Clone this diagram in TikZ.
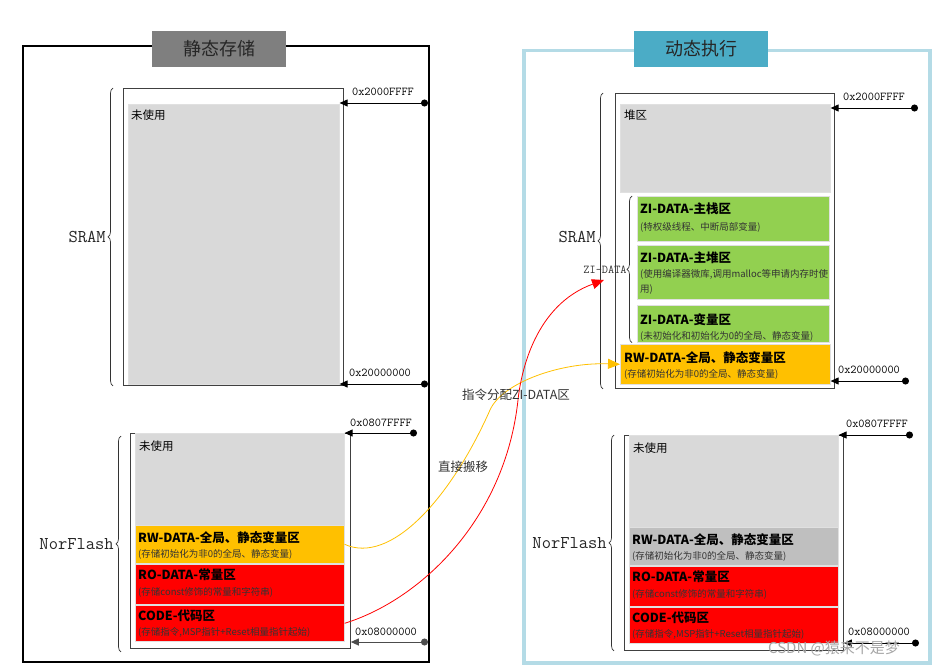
\documentclass[tikz,border=0pt]{standalone}
\usepackage{fontspec}
\newfontfamily\zhfont{Noto Sans CJK SC}
\usepackage{tikz}
\usetikzlibrary{positioning, arrows.meta, decorations.pathreplacing}

\definecolor{unusedgray}{HTML}{D9D9D9}
\definecolor{movedgray}{HTML}{BFBFBF}
\definecolor{rwyellow}{HTML}{FFC000}
\definecolor{rored}{HTML}{FF0000}
\definecolor{zigreen}{HTML}{92D050}
\definecolor{hdrgray}{HTML}{7F7F7F}
\definecolor{hdrblue}{HTML}{4BACC6}
\definecolor{frameblue}{HTML}{B4DBE6}
\definecolor{curveyellow}{HTML}{FFC000}

\begin{document}
\begin{tikzpicture}[x=1pt, y=-1pt,
    memrect/.style={draw=black!75, line width=0.8pt, fill=white, anchor=north west, inner sep=0pt},
    blk/.style={draw=black!12, line width=0.6pt, anchor=north west, inner sep=0pt},
    lbl/.style={anchor=north west, inner sep=0pt, font=\zhfont\fontsize{11.5}{13}\selectfont},
    ttl/.style={anchor=north west, inner sep=0pt, font=\zhfont\bfseries\fontsize{12.5}{14}\selectfont},
    sub/.style={anchor=north west, inner sep=0pt, align=left, text=black!80, font=\zhfont\fontsize{9.5}{15}\selectfont},
    hdr/.style={minimum width=134, minimum height=36, inner sep=0pt, text=black!85, font=\zhfont\fontsize{18}{20}\selectfont},
    addr/.style={{Circle[length=7pt]}-{Triangle[length=8pt,width=7pt]}, line width=1pt},
    addrlbl/.style={inner sep=0pt, font=\ttfamily\fontsize{12}{14}\selectfont},
    brc/.style={decorate, decoration={brace, amplitude=5pt}, line width=0.7pt, black!80},
    brclbl/.style={left=7pt, inner sep=0pt, text=black!85, font=\ttfamily\fontsize{18}{20}\selectfont},
    move/.style={line width=0.8pt, -{Triangle[length=12pt,width=10pt]}},
    note/.style={inner sep=0pt, text=black!80, font=\zhfont\fontsize{12.5}{14}\selectfont}
]
\useasboundingbox (0,0) rectangle (936,669);

% static storage (left)
\node[draw, line width=2pt, anchor=north west, minimum width=406, minimum height=616] (lframe) at (22,45) {};
\node[hdr, fill=hdrgray] (ltitle) at (219,49) {静态存储};

\node[memrect, minimum width=220, minimum height=297] (lsram) at (123,88) {};
\node[blk, fill=unusedgray, minimum width=211, minimum height=280] (lunused) at (128,104) {};
\node[lbl, below right=6pt and 3pt of lunused.north west] (lunusedt) {未使用};

\node[memrect, minimum width=220, minimum height=215] (lflash) at (130,433) {};
\node[blk, fill=unusedgray, minimum width=209, minimum height=92] (lfree) at (135,433) {};
\node[blk, fill=rwyellow, minimum width=209, minimum height=38] (lrw) at (135,525) {};
\node[blk, fill=rored, minimum width=209, minimum height=40] (lro) at (135,564) {};
\node[blk, fill=rored, minimum width=209, minimum height=36] (lcode) at (135,605) {};
\node[lbl, below right=8pt and 4pt of lfree.north west] (lfreet) {未使用};
\node[ttl, below right=6pt and 3pt of lrw.north west] (lrwt) {RW-DATA-全局、静态变量区};
\node[sub, below right=24pt and 3pt of lrw.north west] (lrws) {(存储初始化为非0的全局、静态变量)};
\node[ttl, below right=5pt and 3pt of lro.north west] (lrot) {RO-DATA-常量区};
\node[sub, below right=23pt and 3pt of lro.north west] (lros) {(存储const修饰的常量和字符串)};
\node[ttl, below right=5pt and 3pt of lcode.north west] (lcodet) {CODE-代码区};
\node[sub, below right=22pt and 3pt of lcode.north west] (lcodes) {(存储指令,MSP指针+Reset相量指针起始)};

\draw[brc] ([xshift=-10pt]lsram.south west) -- ([xshift=-10pt]lsram.north west)
    node[midway, brclbl] (lsraml) {SRAM};
\draw[brc] ([xshift=-9pt,yshift=-3pt]lflash.south west) -- ([xshift=-9pt,yshift=-3pt]lflash.north west)
    node[midway, brclbl] (lflashl) {NorFlash};

\coordinate (la1) at (428,103);
\coordinate (la2) at (428,384);
\coordinate (la3) at (417,433);
\coordinate (la4) at (428,642);
\draw[addr] (la1) -- (la1 -| lunused.east);
\draw[addr] (la2) -- (la2 -| lunused.east);
\draw[addr] (la3) -- (la3 -| lfree.east);
\draw[addr, black!70] (la4) -- (la4 -| lflash.east);
\node[addrlbl] (la1t) at (383,92) {0x2000FFFF};
\node[addrlbl] (la2t) at (380,373) {0x20000000};
\node[addrlbl] (la3t) at (381,423) {0x0807FFFF};
\node[addrlbl] (la4t) at (386,632) {0x08000000};

% dynamic execution (right)
\node[draw=frameblue, line width=3.5pt, anchor=north west, minimum width=406, minimum height=612] (rframe) at (522,49) {};
\node[hdr, fill=hdrblue] (rtitle) at (701,49) {动态执行};

\node[memrect, minimum width=219, minimum height=295] (rsram) at (615,93) {};
\node[blk, fill=unusedgray, minimum width=210, minimum height=88] (rheap) at (620,104) {};
\node[blk, fill=zigreen, minimum width=192, minimum height=45] (rstack) at (637,196) {};
\node[blk, fill=zigreen, minimum width=192, minimum height=54] (rmheap) at (637,245) {};
\node[blk, fill=zigreen, minimum width=192, minimum height=37] (rzivar) at (637,305) {};
\node[blk, fill=rwyellow, minimum width=210, minimum height=40] (rrw) at (620,344) {};
\node[lbl, below right=6pt and 4pt of rheap.north west] (rheapt) {堆区};
\node[ttl, below right=7pt and 3pt of rstack.north west] (rstackt) {ZI-DATA-主栈区};
\node[sub, below right=26pt and 3pt of rstack.north west] (rstacks) {(特权级线程、中断局部变量)};
\node[ttl, below right=7pt and 3pt of rmheap.north west] (rmheapt) {ZI-DATA-主堆区};
\node[sub, below right=24pt and 3pt of rmheap.north west] (rmheaps) {(使用编译器微库,调用malloc等申请内存时使\\用)};
\node[ttl, below right=8pt and 3pt of rzivar.north west] (rzivart) {ZI-DATA-变量区};
\node[sub, below right=26pt and 3pt of rzivar.north west] (rzivars) {(未初始化和初始化为0的全局、静态变量)};
\node[ttl, below right=7pt and 4pt of rrw.north west] (rrwt) {RW-DATA-全局、静态变量区};
\node[sub, below right=25pt and 4pt of rrw.north west] (rrws) {(存储初始化为非0的全局、静态变量)};

\node[memrect, minimum width=219, minimum height=215] (rflash) at (624,435) {};
\node[blk, fill=unusedgray, minimum width=209, minimum height=92] (rfree) at (629,435) {};
\node[blk, fill=movedgray, minimum width=209, minimum height=38] (rrwf) at (629,527) {};
\node[blk, fill=rored, minimum width=209, minimum height=40] (rro) at (629,566) {};
\node[blk, fill=rored, minimum width=209, minimum height=36] (rcode) at (629,607) {};
\node[lbl, below right=8pt and 4pt of rfree.north west] (rfreet) {未使用};
\node[ttl, below right=6pt and 3pt of rrwf.north west] (rrwft) {RW-DATA-全局、静态变量区};
\node[sub, below right=24pt and 3pt of rrwf.north west] (rrwfs) {(存储初始化为非0的全局、静态变量)};
\node[ttl, below right=5pt and 3pt of rro.north west] (rrot) {RO-DATA-常量区};
\node[sub, below right=23pt and 3pt of rro.north west] (rros) {(存储const修饰的常量和字符串)};
\node[ttl, below right=5pt and 3pt of rcode.north west] (rcodet) {CODE-代码区};
\node[sub, below right=22pt and 3pt of rcode.north west] (rcodes) {(存储指令,MSP指针+Reset相量指针起始)};

\draw[brc] ([xshift=-12pt]rsram.south west) -- ([xshift=-12pt]rsram.north west)
    node[midway, brclbl, yshift=4pt] (rsraml) {SRAM};
\draw[brc] ([xshift=-5pt]rzivar.south west) -- ([xshift=-5pt]rstack.north west)
    node[midway, left=5pt, inner sep=0pt, font=\ttfamily\fontsize{12}{14}\selectfont] (rzil) {ZI-DATA};
\draw[brc] ([xshift=-10pt]rflash.south west) -- ([xshift=-10pt]rflash.north west)
    node[midway, brclbl] (rflashl) {NorFlash};

\coordinate (ra1) at (918,108);
\coordinate (ra2) at (909,381);
\coordinate (ra3) at (913,435);
\coordinate (ra4) at (919,643);
\draw[addr] (ra1) -- (ra1 -| rheap.east);
\draw[addr] (ra2) -- (ra2 -| rrw.east);
\draw[addr] (ra3) -- (ra3 -| rfree.east);
\draw[addr] (ra4) -- (ra4 -| rflash.east);
\node[addrlbl] (ra1t) at (874,97) {0x2000FFFF};
\node[addrlbl] (ra2t) at (869,370) {0x20000000};
\node[addrlbl] (ra3t) at (877,424) {0x0807FFFF};
\node[addrlbl] (ra4t) at (879,632) {0x08000000};

% moves between the two
\coordinate (zitip) at (604,280);
\draw[move, curveyellow] (lrw.east) .. controls (390,565) and (450,500) .. (490,410)
    .. controls (502,383) and (560,362) .. (rrw.west);
\draw[move, rored] (lcode.east) .. controls (420,600) and (505,520) .. (518,400)
    .. controls (521,372) and (535,305) .. (zitip);
\node[note] (allocnote) at (516,395) {指令分配ZI-DATA区};
\node[note] (copynote) at (463,467) {直接搬移};

\node[inner sep=0pt, text=black!35, font=\zhfont\fontsize{15}{17}\selectfont] (wmark) at (834,648) {CSDN @猿来不是梦};
\end{tikzpicture}
\end{document}
